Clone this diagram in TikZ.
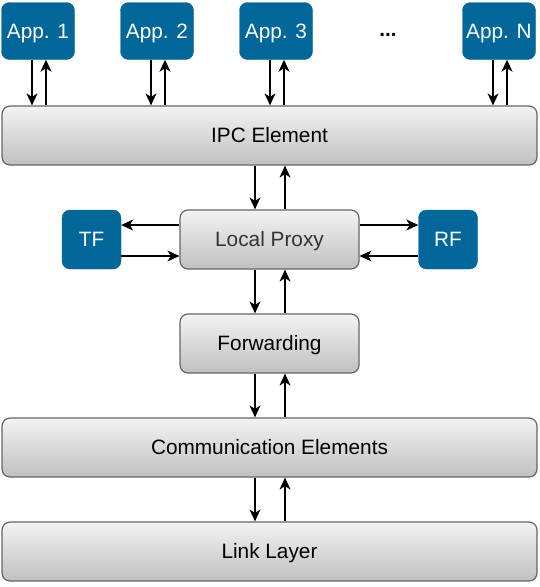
\documentclass[tikz,border=0pt]{standalone}
\usepackage{fontspec}
\setmainfont{Liberation Sans}
\usetikzlibrary{arrows.meta}
\definecolor{appblue}{RGB}{3,103,153}
\definecolor{boxtop}{RGB}{243,243,243}
\definecolor{boxbot}{RGB}{192,192,192}
\definecolor{boxline}{RGB}{102,102,102}
\begin{document}
\begin{tikzpicture}[x=1pt, y=-1pt,
    app/.style={fill=appblue, draw=appblue, rounded corners=8pt, text=white,
        minimum width=73pt, minimum height=57pt, inner sep=0pt,
        text height=14.8pt, text depth=0pt,
        font=\fontsize{20.8}{24}\selectfont},
    layer/.style={draw=boxline, line width=1.2pt, rounded corners=8pt,
        top color=boxtop, bottom color=boxbot, minimum height=59pt, inner sep=0pt,
        text height=14.8pt, text depth=0pt,
        font=\fontsize{20.8}{24}\selectfont},
    arr/.style={-{Stealth[length=12pt, width=11pt, inset=3.5pt]}, line width=1.4pt}]

    \useasboundingbox (0,0) rectangle (540,587);

    % Applications
    \foreach \x/\n/\t in {38/a1/App. 1, 157/a2/App. 2, 276/a3/App. 3, 499/an/App. N} {
        \node[app] (\n) at (\x,31) {\t};
    }
    \node[font=\fontsize{20.8}{24}\selectfont\bfseries] (dots) at (388,35) {...};

    % Layers
    \node[layer, minimum width=535pt] (ipc) at (269.5,135.5) {IPC Element};
    \node[layer, minimum width=179pt, text=black!80] (lp) at (269.5,239.5) {Local Proxy};
    \node[layer, minimum width=179pt] (fwd) at (269.5,343.5) {Forwarding};
    \node[layer, minimum width=535pt] (comm) at (269.5,447.5) {Communication Elements};
    \node[layer, minimum width=535pt] (link) at (269.5,551.5) {Link Layer};

    % TF and RF
    \node[app, minimum width=59pt, minimum height=59pt] (tf) at (91.5,239.5) {TF};
    \node[app, minimum width=59pt, minimum height=59pt] (rf) at (448,239.5) {RF};

    % Apps to IPC Element
    \foreach \n in {a1, a2, a3, an} {
        \draw[arr] ([xshift=-6pt]\n.south) -- ([xshift=-6pt]\n.south |- ipc.north);
        \draw[arr] ([xshift=8pt]\n.south |- ipc.north) -- ([xshift=8pt]\n.south);
    }

    % Vertical links between layers
    \foreach \a/\b in {ipc/lp, lp/fwd, fwd/comm, comm/link} {
        \draw[arr] ([xshift=-14.5pt]lp.south |- \a.south) -- ([xshift=-14.5pt]lp.south |- \b.north);
        \draw[arr] ([xshift=15.5pt]lp.south |- \b.north) -- ([xshift=15.5pt]lp.south |- \a.south);
    }

    % Local Proxy to TF and RF
    \draw[arr] ([yshift=14.5pt]lp.west) -- ([yshift=14.5pt]lp.west -| tf.east);
    \draw[arr] ([yshift=-16.5pt]lp.west -| tf.east) -- ([yshift=-16.5pt]lp.west);
    \draw[arr] ([yshift=14.5pt]lp.east) -- ([yshift=14.5pt]lp.east -| rf.west);
    \draw[arr] ([yshift=-16.5pt]lp.east -| rf.west) -- ([yshift=-16.5pt]lp.east);
\end{tikzpicture}
\end{document}
